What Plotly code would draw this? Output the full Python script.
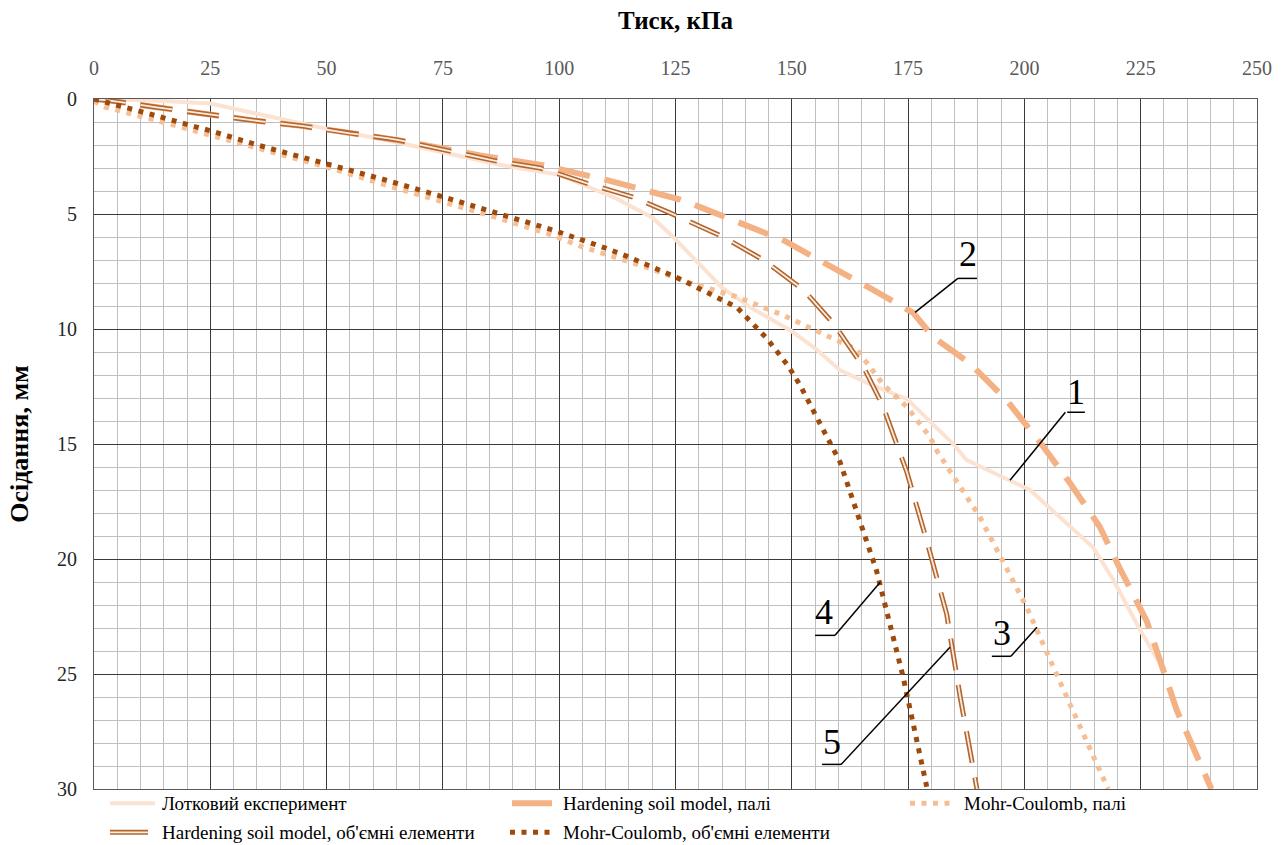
import plotly.graph_objects as go

# Load-settlement curves: pressure (kPa) vs settlement (mm)
exp_p = [0, 12, 25, 40, 50, 62, 75, 87, 100, 112, 120, 124.5, 130, 135, 141, 150, 155.4, 160.4, 166.8, 174.8, 184.7, 187.6, 201.2, 214.8, 219.1, 224.9, 228.7]
exp_s = [0, 0.05, 0.2, 0.85, 1.3, 1.75, 2.3, 2.85, 3.3, 4.3, 5.15, 6.0, 7.15, 8.2, 9.05, 10.1, 10.9, 11.8, 12.4, 13.05, 15.0, 15.7, 17.0, 19.5, 20.9, 23.1, 24.4]

hs_pile_p = [0, 3.4, 13.5, 24.2, 34.2, 45, 55, 65, 83, 96.5, 110.3, 120.2, 126, 130.3, 148.2, 167.5, 176.1, 180.4, 188.3, 196.2, 204, 209.8, 216.2, 220.5, 226.3, 232.8, 240.2]
hs_pile_s = [0, 0.07, 0.36, 0.67, 0.93, 1.18, 1.49, 1.78, 2.45, 2.88, 3.53, 4.05, 4.37, 4.7, 6.14, 8.3, 9.3, 10.35, 11.5, 13.1, 15.1, 16.7, 18.6, 20.4, 22.7, 26.6, 30]

mc_pile_p = [0, 2.4, 13.8, 25.4, 50.7, 62.1, 75.8, 87.3, 98.7, 105.2, 112.4, 119.5, 128.1, 132.4, 138.2, 148.1, 158.9, 164, 169.6, 174.8, 179.7, 181.2, 190.5, 200.5, 209.1, 218]
mc_pile_s = [0.1, 0.35, 0.95, 1.6, 3.0, 3.7, 4.5, 5.2, 5.93, 6.45, 6.9, 7.37, 8.0, 8.24, 8.6, 9.4, 10.4, 10.9, 12.4, 13.4, 14.7, 15.3, 18.2, 22.1, 26.0, 30]

hs_vol_p = [0, 3.4, 13.5, 24.2, 34.2, 45, 55, 63, 65.8, 85.8, 95.9, 106, 115.9, 123.8, 135.3, 143.9, 152.5, 159, 165.4, 169.5, 174.7, 179, 183.3, 186.2, 189.8]
hs_vol_s = [0, 0.07, 0.36, 0.67, 0.93, 1.18, 1.49, 1.7, 1.8, 2.67, 3.0, 3.67, 4.27, 4.95, 6.0, 7.0, 8.3, 9.77, 11.65, 13.3, 16.2, 19.2, 22.4, 26.0, 30]

mc_vol_p = [0, 2.4, 7, 13.8, 20.6, 25.4, 34.6, 46, 50.7, 62.1, 75.8, 87.3, 98.7, 110.2, 114.6, 125.3, 138.2, 144.6, 149.2, 151.8, 158.2, 160.4, 168.2, 173.9, 179]
mc_vol_s = [0, 0.14, 0.36, 0.75, 1.14, 1.4, 1.97, 2.58, 2.84, 3.49, 4.3, 4.98, 5.7, 6.5, 6.84, 7.76, 9.06, 10.4, 11.6, 12.45, 15.0, 15.8, 20.5, 25.1, 29.9]

series_names = [
    "Лотковий експеримент",
    "Hardening soil model, палі",
    "Mohr-Coulomb, палі",
    "Hardening soil model, об'ємні елементи",
    "Mohr-Coulomb, об'ємні елементи",
]

x_ticks = [0, 25, 50, 75, 100, 125, 150, 175, 200, 225, 250]
y_ticks = [0, 5, 10, 15, 20, 25, 30]

# Callout numbers: label position, underline span, leader line end on the curve
callout_text = ["1", "2", "3", "4", "5"]
callout_xy = [(211.0, 12.75), (187.9, 6.75), (195.1, 23.2), (157.0, 22.3), (158.6, 27.95)]
underline_x = [(209.2, 213.0), (185.7, 189.8), (193.0, 197.1), (155.0, 159.3), (156.5, 160.6)]
underline_y = [13.62, 7.8, 24.23, 23.32, 28.93]
leader_start = [(208.8, 13.62), (185.7, 7.8), (197.1, 24.23), (159.3, 23.32), (160.6, 28.93)]
leader_end = [(196.9, 16.58), (176.5, 9.28), (202.7, 22.97), (169.0, 21.01), (184.0, 23.84)]

C_EXP = "#FBE2D1"
C_HS_PILE = "#F4B183"
C_MC_PILE = "#F7BE94"
C_HS_VOL = "#B2652D"
C_HS_VOL_IN = "#FCEBDF"
C_MC_VOL = "#9E4A0C"

SERIF = "Liberation Serif"
DOT = "5px,6.5px"
DASH = "32px,15px"

fig = go.Figure()

fig.add_trace(go.Scatter(x=exp_p, y=exp_s, mode="lines", name=series_names[0],
                         line=dict(color=C_EXP, width=4), showlegend=False))
fig.add_trace(go.Scatter(x=hs_pile_p, y=hs_pile_s, mode="lines", name=series_names[1],
                         line=dict(color=C_HS_PILE, width=6, dash=DASH), showlegend=False))
fig.add_trace(go.Scatter(x=mc_pile_p, y=mc_pile_s, mode="lines", name=series_names[2],
                         line=dict(color=C_MC_PILE, width=5, dash=DOT), showlegend=False))
# double-outlined dashes: wide brown stroke with a pale core on top
fig.add_trace(go.Scatter(x=hs_vol_p, y=hs_vol_s, mode="lines", name=series_names[3],
                         line=dict(color=C_HS_VOL, width=5, dash=DASH), showlegend=False))
fig.add_trace(go.Scatter(x=hs_vol_p, y=hs_vol_s, mode="lines", name=series_names[3],
                         line=dict(color=C_HS_VOL_IN, width=1.8, dash=DASH), showlegend=False,
                         hoverinfo="skip"))
fig.add_trace(go.Scatter(x=mc_vol_p, y=mc_vol_s, mode="lines", name=series_names[4],
                         line=dict(color=C_MC_VOL, width=5, dash=DOT), showlegend=False))

shapes = []
annotations = []

# callouts
for t, (tx, ty), (u0, u1), uy, (ls_x, ls_y), (le_x, le_y) in zip(
        callout_text, callout_xy, underline_x, underline_y, leader_start, leader_end):
    annotations.append(dict(x=tx, y=ty, xref="x", yref="y", text=t, showarrow=False,
                            font=dict(family=SERIF, size=36, color="black"),
                            xanchor="center", yanchor="middle"))
    shapes.append(dict(type="line", xref="x", yref="y", x0=u0, x1=u1, y0=uy, y1=uy,
                       line=dict(color="black", width=1.5)))
    shapes.append(dict(type="line", xref="x", yref="y", x0=ls_x, y0=ls_y, x1=le_x, y1=le_y,
                       line=dict(color="black", width=1.5)))

# legend drawn below the plot area (paper coordinates)
L, W = 94.0, 1163.0
T, H = 98.7, 690.0


def px(x):
    return (x - L) / W


def py(y):
    return (T + H - y) / H


legend_rows = [
    (803, [(110, 155, 160, 0), (512, 552, 561, 1), (910, 952, 962, 2)]),
    (832, [(110, 148, 160, 3), (510, 552, 561, 4)]),
]
legend_style = {
    0: [dict(color=C_EXP, width=4)],
    1: [dict(color=C_HS_PILE, width=6)],
    2: [dict(color=C_MC_PILE, width=5, dash=DOT)],
    3: [dict(color=C_HS_VOL, width=5), dict(color=C_HS_VOL_IN, width=1.8)],
    4: [dict(color=C_MC_VOL, width=5, dash=DOT)],
}
for ypix, items in legend_rows:
    for x0, x1, xt, idx in items:
        for st in legend_style[idx]:
            shapes.append(dict(type="line", xref="paper", yref="paper",
                               x0=px(x0), x1=px(x1), y0=py(ypix), y1=py(ypix), line=st))
        annotations.append(dict(x=px(xt), y=py(ypix), xref="paper", yref="paper",
                                text=series_names[idx], showarrow=False,
                                xanchor="left", yanchor="middle",
                                font=dict(family=SERIF, size=19, color="black")))

fig.update_layout(
    width=1288, height=845,
    margin=dict(l=94, r=31, t=99, b=56),
    paper_bgcolor="white", plot_bgcolor="white",
    shapes=shapes, annotations=annotations,
    showlegend=False,
    font=dict(family=SERIF),
)

fig.update_xaxes(
    side="top", range=[0, 250], tickvals=x_ticks, ticktext=[str(v) for v in x_ticks],
    tickfont=dict(family=SERIF, size=20, color="#595959"),
    showgrid=True, gridcolor="#3A3A3A", gridwidth=1,
    minor=dict(dtick=5, showgrid=True, gridcolor="#BFBFBF", gridwidth=1),
    showline=True, linecolor="#595959", linewidth=1, mirror=True,
    ticks="", ticklabelstandoff=15, zeroline=False,
    title=dict(text="<b>Тиск, кПа</b>", font=dict(family=SERIF, size=25, color="black"),
               standoff=20),
)
fig.update_yaxes(
    range=[30, 0], tickvals=y_ticks, ticktext=[str(v) for v in y_ticks],
    tickfont=dict(family=SERIF, size=20, color="#262626"),
    showgrid=True, gridcolor="#3A3A3A", gridwidth=1,
    minor=dict(dtick=1, showgrid=True, gridcolor="#BFBFBF", gridwidth=1),
    showline=True, linecolor="#595959", linewidth=1, mirror=True,
    ticks="", ticklabelstandoff=12, zeroline=False,
    title=dict(text="<b>Осідання, мм</b>", font=dict(family=SERIF, size=26, color="black"),
               standoff=20),
)

fig.write_html("out.html")
